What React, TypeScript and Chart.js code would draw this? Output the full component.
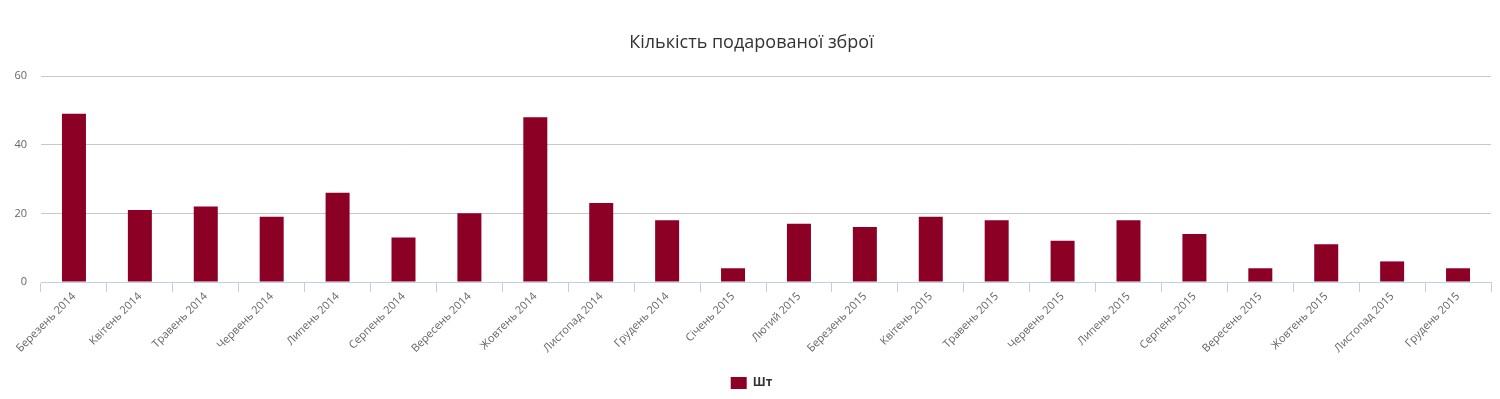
import React, { useEffect, useRef } from "react";
import { Chart, registerables } from "chart.js";

Chart.register(...registerables);

const chartTitle = "Кількість подарованої зброї";
const seriesName = "Шт";
const categories = [
  "Березень 2014", "Квітень 2014", "Травень 2014", "Червень 2014", "Липень 2014",
  "Серпень 2014", "Вересень 2014", "Жовтень 2014", "Листопад 2014", "Грудень 2014",
  "Січень 2015", "Лютий 2015", "Березень 2015", "Квітень 2015", "Травень 2015",
  "Червень 2015", "Липень 2015", "Серпень 2015", "Вересень 2015", "Жовтень 2015",
  "Листопад 2015", "Грудень 2015",
];
const values = [49, 21, 22, 19, 26, 13, 20, 48, 23, 18, 4, 17, 16, 19, 18, 12, 18, 14, 4, 11, 6, 4];
const yTicks = [0, 20, 40, 60];

const FONT = "'Open Sans', 'DejaVu Sans', sans-serif";

export default function App() {
  const ref = useRef<HTMLCanvasElement | null>(null);
  useEffect(() => {
    if (!ref.current) return;
    const chart = new Chart(ref.current, {
      type: "bar",
      data: {
        labels: categories,
        datasets: [
          {
            label: seriesName,
            data: values,
            backgroundColor: "#8B0024",
            borderWidth: 0,
            categoryPercentage: 1,
            barPercentage: 0.364,
          },
        ],
      },
      options: {
        animation: false,
        responsive: false,
        maintainAspectRatio: false,
        layout: { padding: { left: 12, right: 9, top: 0, bottom: 0 } },
        plugins: {
          title: {
            display: true,
            text: chartTitle,
            color: "#333333",
            font: { family: FONT, size: 18, weight: "normal" },
            padding: { top: 32.5, bottom: 22 },
          },
          legend: {
            display: true,
            position: "bottom",
            labels: {
              boxWidth: 16,
              boxHeight: 12,
              color: "#333333",
              font: { family: FONT, size: 12, weight: "bold" },
              padding: 8,
            },
          },
          tooltip: { enabled: false },
        },
        scales: {
          x: {
            offset: true,
            grid: {
              display: true,
              offset: true,
              drawOnChartArea: false,
              drawTicks: true,
              tickLength: 10,
              color: "#C0D0E0",
            },
            border: { display: true, color: "#C0D0E0", width: 1 },
            ticks: {
              color: "#666666",
              font: { family: FONT, size: 11 },
              maxRotation: 45,
              minRotation: 45,
              autoSkip: false,
              padding: -2,
            },
            afterFit: (scale: any) => {
              scale.height = 87;
            },
          },
          y: {
            min: 0,
            max: 60,
            afterBuildTicks: (scale: any) => {
              scale.ticks = yTicks.map((v) => ({ value: v }));
            },
            grid: { color: "#C8C8C8", drawTicks: false, lineWidth: 1 },
            border: { display: false },
            ticks: {
              color: "#666666",
              font: { family: FONT, size: 11 },
              padding: 14,
            },
            afterFit: (scale: any) => {
              scale.width = 29;
            },
          },
        },
      },
    });
    return () => chart.destroy();
  }, []);
  return (
    <div style={{ position: "absolute", left: 0, top: 0, width: 1500, height: 399, background: "#fff" }}>
      <canvas ref={ref} width={1500} height={399} style={{ display: "block", width: 1500, height: 399 }} />
    </div>
  );
}
